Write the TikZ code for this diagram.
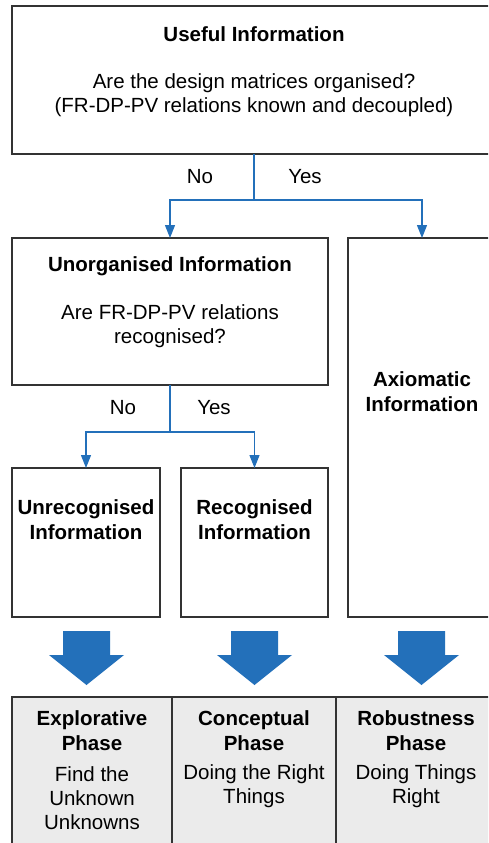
\documentclass[tikz,border=0pt]{standalone}
\usepackage{fontspec}
\setmainfont{Liberation Sans}
\usetikzlibrary{arrows.meta}

\definecolor{flowblue}{RGB}{35,112,186}
\definecolor{boxline}{RGB}{51,51,51}
\definecolor{phasegray}{RGB}{235,235,235}

\tikzset{every picture/.style={line width=0.75pt}}
\tikzset{
  infobox/.style={draw=boxline, line width=1.5pt, rectangle, inner sep=0pt, outer sep=0pt},
  phasebox/.style={infobox, fill=phasegray},
  flowline/.style={draw=flowblue, line width=1.2pt, -{Triangle[width=10pt,length=13pt]}},
  phasearrow/.style={fill=flowblue, draw=none},
  txt/.style={inner sep=0pt, align=center, font=\fontsize{20.5}{24}\selectfont},
  head/.style={txt, font=\fontsize{20.5}{24.5}\selectfont\bfseries}
}

\begin{document}
\begin{tikzpicture}[x=1pt,y=1pt,yscale=-1,xscale=1]
\useasboundingbox (0,0) rectangle (488,843);
\clip (0,0) rectangle (488,843);

%Shape: Rectangle [useful]
\node[infobox, minimum width=484pt, minimum height=148pt] (useful) at (254,80) {};
%Shape: Rectangle [unorg]
\node[infobox, minimum width=316pt, minimum height=147pt] (unorg) at (170,311.5) {};
%Shape: Rectangle [axiom]
\node[infobox, minimum width=148pt, minimum height=379pt] (axiom) at (422,427.5) {};
%Shape: Rectangle [unrec]
\node[infobox, minimum width=148pt, minimum height=149pt] (unrec) at (86,542.5) {};
%Shape: Rectangle [rec]
\node[infobox, minimum width=147pt, minimum height=149pt] (rec) at (254.5,542.5) {};

%Phase boxes
\node[phasebox, minimum width=160pt, minimum height=152pt] (explore) at (92,773) {};
\node[phasebox, minimum width=164pt, minimum height=152pt] (concept) at (254,773) {};
\node[phasebox, minimum width=160pt, minimum height=152pt] (robust) at (416,773) {};

%Straight Lines [split of useful]
\coordinate (split1) at (254,200);
\draw[flowline] (useful.south) -- (split1) -| (unorg.north);
\draw[flowline] (split1) -| (axiom.north);
%Straight Lines [split of unorg]
\coordinate (split2) at (170,432);
\draw[flowline] (unorg.south) -- (split2) -| (unrec.north);
\draw[flowline] (split2) -| (rec.north);

%Shape: Down Arrow
\fill[phasearrow] (63,631) -- (110,631) -- (110,655) -- (124,655) -- (86.5,685) -- (49,655) -- (63,655) -- cycle;
%Shape: Down Arrow
\fill[phasearrow] (231,631) -- (278,631) -- (278,655) -- (292,655) -- (254.5,685) -- (217,655) -- (231,655) -- cycle;
%Shape: Down Arrow
\fill[phasearrow] (398,631) -- (445,631) -- (445,655) -- (459,655) -- (421.5,685) -- (384,655) -- (398,655) -- cycle;

% Text Node
\node[head] (usefulhead) at (254,34) {Useful Information};
% Text Node
\node[txt] (usefulq) at (254,95) {Are the design matrices organised?\\(FR-DP-PV relations known and decoupled)};
% Text Node
\node[txt] (no1) at (200,177) {No};
\node[txt] (yes1) at (305,177) {Yes};
% Text Node
\node[head] (unorghead) at (170,266) {Unorganised Information};
\node[txt] (unorgq) at (170,326.5) {Are FR-DP-PV relations\\recognised?};
% Text Node
\node[head] (axiomhead) at (422,391.5) {Axiomatic\\Information};
% Text Node
\node[txt] (no2) at (123,408) {No};
\node[txt] (yes2) at (214,408) {Yes};
% Text Node
\node[head] (unrechead) at (86,519.5) {Unrecognised\\Information};
\node[head] (rechead) at (254.5,519.5) {Recognised\\Information};
% Text Node
\node[head] (explorehead) at (92,730.5) {Explorative\\Phase};
\node[txt] (exploretxt) at (92,798) {Find the\\Unknown\\Unknowns};
\node[head] (concepthead) at (254,730.5) {Conceptual\\Phase};
\node[txt] (concepttxt) at (254,786) {Doing the Right\\Things};
\node[head] (robusthead) at (416,730.5) {Robustness\\Phase};
\node[txt] (robusttxt) at (416,786) {Doing Things\\Right};

\end{tikzpicture}
\end{document}
